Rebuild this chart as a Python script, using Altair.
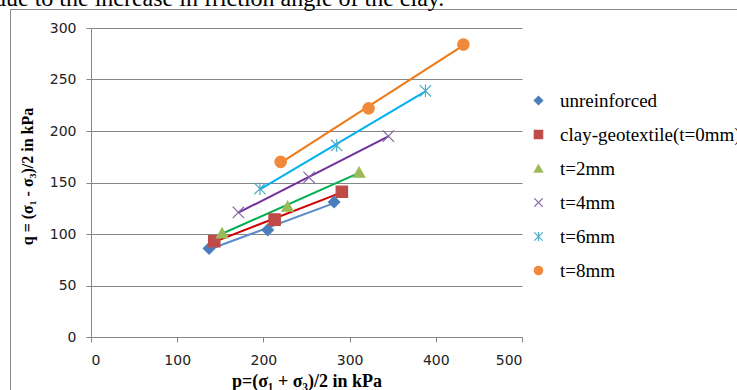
import altair as alt
import pandas as pd

series = ["unreinforced", "clay-geotextile(t=0mm)", "t=2mm", "t=4mm", "t=6mm", "t=8mm"]
p_vals = [
    [137, 205, 282],
    [143, 213, 291],
    [152, 228, 311],
    [171, 253, 345],
    [196, 285, 388],
    [220, 322, 432],
]
q_vals = [
    [86, 104, 131],
    [93, 114, 141],
    [101, 127, 160],
    [121, 155, 195],
    [144, 186, 239],
    [170, 222, 284],
]
marker_colors = ["#4A7EBB", "#BE4B48", "#9BBB59", "#8064A2", "#4BACC6", "#F08A3A"]
line_colors = ["#5B8BC9", "#D00000", "#00B050", "#7030A0", "#00B0F0", "#EE7A16"]
shapes = [
    "diamond",
    "square",
    "triangle-up",
    "M-1,-1L1,1M-1,1L1,-1",
    "M-1,-1L1,1M-1,1L1,-1M0,-1.1L0,1.1",
    "circle",
]
x_ticks = [0, 100, 200, 300, 400, 500]
y_ticks = [0, 50, 100, 150, 200, 250, 300]
top_text = "due to the increase in friction angle of the clay."

rows = []
for s, ps, qs in zip(series, p_vals, q_vals):
    for p, q in zip(ps, qs):
        rows.append({"series": s, "p": p, "q": q})
df = pd.DataFrame(rows)

W, H = 431, 309
PL, PT = 91, 28

xenc = alt.X("p:Q", scale=alt.Scale(domain=[0, 500], nice=False),
             axis=alt.Axis(values=x_ticks, grid=False, title="p=(σ₁ + σ₃)/2 in kPa",
                           titleX=W / 2, titleY=44, titleBaseline="middle",
                           titleFont="Liberation Serif", titleFontSize=18, titleFontWeight="bold",
                           titleColor="#000", labelPadding=11))
yenc = alt.Y("q:Q", scale=alt.Scale(domain=[0, 300], nice=False),
             axis=alt.Axis(values=y_ticks, grid=True, title="q = (σ₁ - σ₃)/2 in kPa",
                           titleX=-64, titleY=148, titleAngle=270, titleAlign="center",
                           titleBaseline="middle",
                           titleFont="Liberation Serif", titleFontSize=16, titleFontWeight="bold",
                           titleColor="#000", labelPadding=10))

frame = alt.Chart(pd.DataFrame([{"a": 1}])).mark_rect(
    filled=False, stroke="#8a8a8a", strokeWidth=1
).encode(x=alt.value(-80.5), x2=alt.value(700), y=alt.value(-18.5), y2=alt.value(400))

toptext = alt.Chart(pd.DataFrame([{"a": 1}])).mark_text(
    font="Liberation Serif", fontSize=24, align="left", baseline="alphabetic", color="#000"
).encode(x=alt.value(-97), y=alt.value(-22), text=alt.value(top_text))

layers = [frame, toptext]
for s, c in zip(series, line_colors):
    layers.append(
        alt.Chart(df).transform_filter(alt.datum.series == s)
        .transform_regression("p", "q")
        .mark_line(color=c, strokeWidth=2)
        .encode(x=xenc, y=yenc)
    )

leg = alt.Legend(title=None, orient="none", legendX=438, legendY=63, padding=0,
                 labelFont="Liberation Serif", labelFontSize=19, labelColor="#000",
                 symbolSize=70, rowPadding=14, labelOffset=12, symbolStrokeWidth=1.2,
                 labelLimit=400)
points = alt.Chart(df).mark_point(filled=True, size=130, strokeWidth=1.2, opacity=1).encode(
    x=xenc, y=yenc,
    fill=alt.Fill("series:N", scale=alt.Scale(domain=series, range=marker_colors), legend=leg),
    stroke=alt.Stroke("series:N", scale=alt.Scale(domain=series, range=marker_colors), legend=leg),
    shape=alt.Shape("series:N", scale=alt.Scale(domain=series, range=shapes), legend=leg),
)
layers.append(points)

chart = alt.layer(*layers).properties(
    width=W, height=H,
    autosize=alt.AutoSizeParams(type="none"),
    padding={"left": PL, "top": PT, "right": 737 - PL - W, "bottom": 390 - PT - H},
).configure_view(strokeWidth=0).configure_axis(
    domainColor="#868686", tickColor="#868686", gridColor="#868686", tickSize=5,
    labelFont="DejaVu Sans", labelFontSize=14, labelColor="#222",
)

chart.save("out.html", embed_options={"renderer": "svg", "actions": False})
